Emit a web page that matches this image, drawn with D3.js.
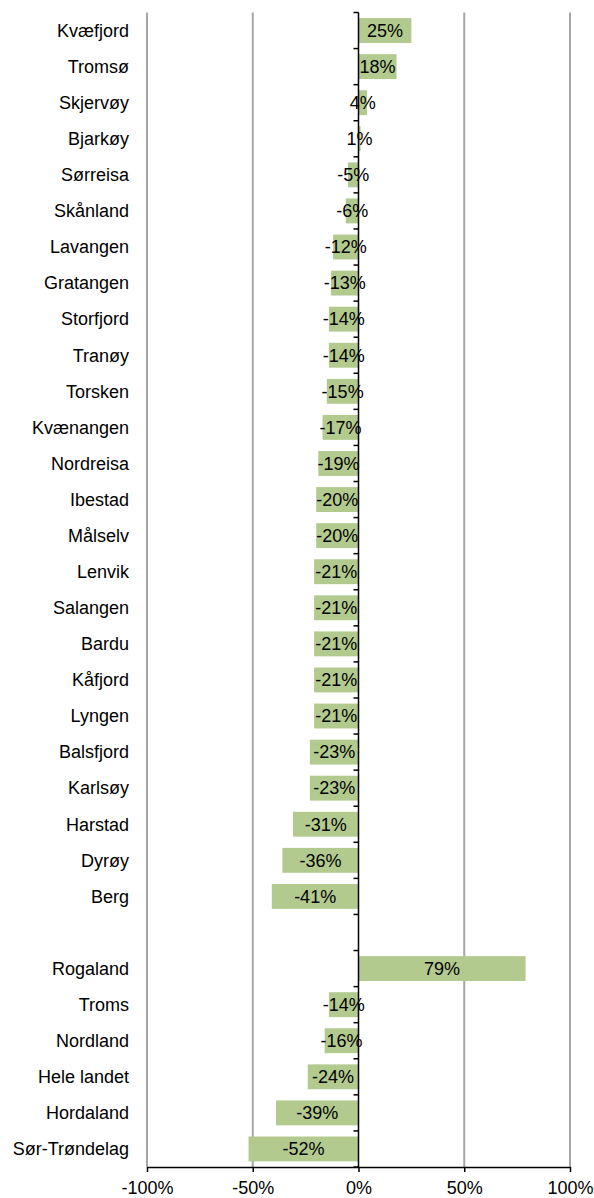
<!DOCTYPE html>
<html><head><meta charset="utf-8">
<script src="https://cdn.jsdelivr.net/npm/d3@7"></script>
<style>body{margin:0;background:#fff}text{font-family:"Liberation Sans",Arial,sans-serif}</style>
</head><body><svg id="c" width="594" height="1198"></svg>
<script>
const categories = ["Kvæfjord","Tromsø","Skjervøy","Bjarkøy","Sørreisa","Skånland","Lavangen","Gratangen","Storfjord","Tranøy","Torsken","Kvænangen","Nordreisa","Ibestad","Målselv","Lenvik","Salangen","Bardu","Kåfjord","Lyngen","Balsfjord","Karlsøy","Harstad","Dyrøy","Berg","","Rogaland","Troms","Nordland","Hele landet","Hordaland","Sør-Trøndelag"];
const values = [25,18,4,1,-5,-6,-12,-13,-14,-14,-15,-17,-19,-20,-20,-21,-21,-21,-21,-21,-23,-23,-31,-36,-41,null,79,-14,-16,-24,-39,-52];
const xTicks = [-100,-50,0,50,100];

const svg = d3.select("#c");
const pL = 147, pR = 570, pT = 12.5, pB = 1167;
const x = d3.scaleLinear().domain([-100,100]).range([pL,pR]);
const keys = categories.map((c,i)=>i);
const y = d3.scaleBand().domain(keys).range([pT,pB]).paddingInner(0.31).paddingOuter(0.155);
const step = y.step();

// gridlines
svg.append("g").selectAll("line").data(xTicks.filter(d=>d!==0)).join("line")
  .attr("x1",d=>x(d)).attr("x2",d=>x(d)).attr("y1",pT).attr("y2",pB)
  .attr("stroke","#a6a6a6").attr("stroke-width",2);

// bars
svg.append("g").selectAll("rect").data(keys.filter(i=>values[i]!==null)).join("rect")
  .attr("x",i=>x(Math.min(0,values[i]))).attr("width",i=>Math.abs(x(values[i])-x(0)))
  .attr("y",i=>y(i)).attr("height",y.bandwidth()).attr("fill","#b3ca8f");

// x axis
const xa = svg.append("g").attr("transform",`translate(0,${pB})`)
  .call(d3.axisBottom(x).tickValues(xTicks).tickSize(5).tickSizeOuter(0).tickFormat(d=>d+"%"));
xa.select(".domain").attr("stroke","#000").attr("stroke-width",1.5);
xa.selectAll(".tick line").attr("stroke","#000").attr("stroke-width",1.5);
xa.selectAll("text").attr("font-size",18).attr("fill","#000").attr("font-family","Liberation Sans, Arial, sans-serif").attr("y",14).attr("dy","0.71em");

// zero line with category ticks
const z = x(0);
svg.append("line").attr("x1",z).attr("x2",z).attr("y1",pT).attr("y2",pB).attr("stroke","#000").attr("stroke-width",1.5);
const bounds = d3.range(0,categories.length+1).map(i=>pT+i*step);
svg.append("g").selectAll("line").data(bounds).join("line")
  .attr("x1",z-5).attr("x2",z).attr("y1",d=>d).attr("y2",d=>d).attr("stroke","#000").attr("stroke-width",1.5);

// category labels
svg.append("g").selectAll("text").data(keys).join("text")
  .attr("x",129).attr("y",i=>y(i)+y.bandwidth()/2).attr("dy","0.35em")
  .attr("text-anchor","end").attr("font-size",18).attr("fill","#000").text(i=>categories[i]);

// value labels
svg.append("g").selectAll("text").data(keys.filter(i=>values[i]!==null)).join("text")
  .attr("x",i=>(x(values[i])+x(0))/2).attr("y",i=>y(i)+y.bandwidth()/2).attr("dy","0.35em")
  .attr("text-anchor","middle").attr("font-size",18).attr("fill","#000").text(i=>values[i]+"%");
</script></body></html>
